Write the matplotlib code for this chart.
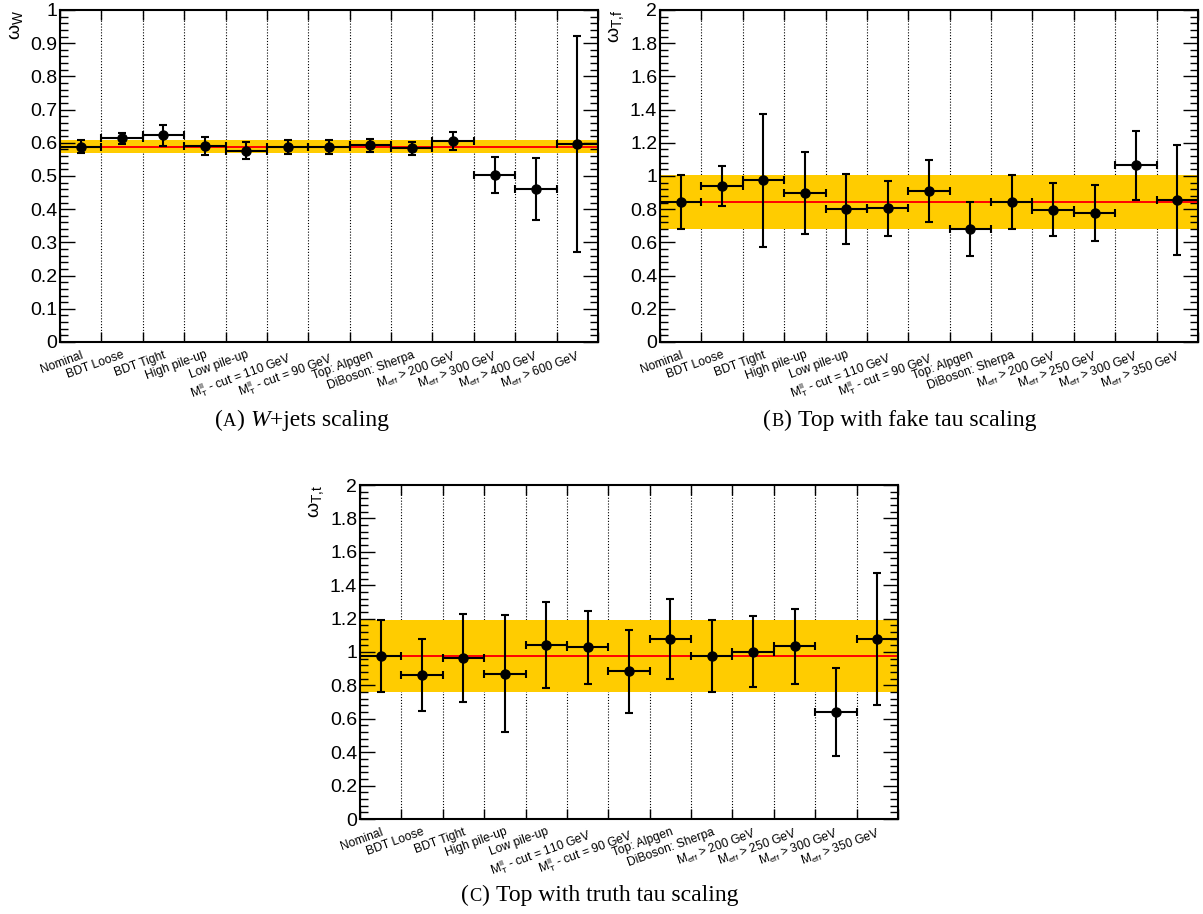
import matplotlib
matplotlib.use("Agg")
import matplotlib.pyplot as plt
from matplotlib.ticker import FixedLocator, MultipleLocator, AutoMinorLocator, FuncFormatter, NullFormatter
from matplotlib.offsetbox import TextArea, HPacker, AnchoredOffsetbox, DrawingArea

plt.rcParams["font.family"] = ["Liberation Sans", "DejaVu Sans"]
plt.rcParams["mathtext.fontset"] = "custom"
plt.rcParams["mathtext.rm"] = "Liberation Sans"
plt.rcParams["mathtext.it"] = "Liberation Sans:italic"
plt.rcParams["mathtext.bf"] = "Liberation Sans:bold"

# ---- variation names ----
common_labels = [
    "Nominal", "BDT Loose", "BDT Tight", "High pile-up", "Low pile-up",
    r"M$_\mathrm{T}^\mathrm{ll}$ - cut = 110 GeV",
    r"M$_\mathrm{T}^\mathrm{ll}$ - cut = 90 GeV",
    "Top: Alpgen", "DiBoson: Sherpa",
]
labels_w = common_labels + [r"M$_\mathrm{eff}$ > 200 GeV", r"M$_\mathrm{eff}$ > 300 GeV",
                            r"M$_\mathrm{eff}$ > 400 GeV", r"M$_\mathrm{eff}$ > 600 GeV"]
labels_top = common_labels + [r"M$_\mathrm{eff}$ > 200 GeV", r"M$_\mathrm{eff}$ > 250 GeV",
                              r"M$_\mathrm{eff}$ > 300 GeV", r"M$_\mathrm{eff}$ > 350 GeV"]

# ---- W+jets scale factors ----
w_val = [0.588, 0.613, 0.622, 0.590, 0.576, 0.588, 0.587, 0.592, 0.583, 0.605, 0.503, 0.460, 0.596]
w_err = [0.019, 0.017, 0.032, 0.028, 0.025, 0.021, 0.020, 0.020, 0.020, 0.027, 0.055, 0.093, 0.325]

# ---- top with fake tau ----
tf_val = [0.841, 0.940, 0.974, 0.898, 0.800, 0.805, 0.908, 0.681, 0.841, 0.797, 0.779, 1.064, 0.857]
tf_err = [0.163, 0.120, 0.400, 0.245, 0.210, 0.165, 0.188, 0.162, 0.163, 0.160, 0.168, 0.210, 0.330]

# ---- top with truth tau ----
tt_val = [0.975, 0.860, 0.962, 0.870, 1.044, 1.028, 0.884, 1.076, 0.975, 1.002, 1.034, 0.642, 1.076]
tt_err = [0.214, 0.216, 0.263, 0.350, 0.258, 0.217, 0.247, 0.240, 0.214, 0.212, 0.225, 0.262, 0.395]

BAND = "#ffcc00"
LINE = "#ff0000"

W, H = 1203, 914
fig = plt.figure(figsize=(W / 100, H / 100), dpi=100)


def px_axes(left, top, right, bottom):
    return fig.add_axes([left / W, 1 - bottom / H, (right - left) / W, (bottom - top) / H])


def fmt(v, _):
    return "%g" % round(v, 3)


def draw_panel(ax, labels, vals, errs, ymax, ystep, ylabel):
    n = len(vals)
    centers = [i + 0.5 for i in range(n)]
    nom, nom_err = vals[0], errs[0]

    # bin separators
    for b in range(1, n):
        ax.axvline(b, color="black", lw=0.8, ls=(0, (1, 1.6)), zorder=0.5)

    # nominal value with its uncertainty band
    ax.axhspan(nom - nom_err, nom + nom_err, color=BAND, lw=0, zorder=1)
    ax.axhline(nom, color=LINE, lw=1.4, zorder=2)

    ax.errorbar(centers, vals, xerr=0.5, yerr=errs, fmt="o", color="black",
                ms=6.5, elinewidth=1.5, capsize=2.8, capthick=1.5, zorder=3)

    ax.set_xlim(0, n)
    ax.set_ylim(0, ymax)

    ax.xaxis.set_major_locator(FixedLocator(list(range(0, n + 1))))
    ax.xaxis.set_major_formatter(NullFormatter())
    ax.xaxis.set_minor_locator(FixedLocator(centers))
    ax.set_xticklabels(labels, minor=True, rotation=20, ha="right",
                       rotation_mode="anchor", fontsize=8.7)
    ax.tick_params(axis="x", which="major", direction="in", length=7, width=1.0,
                   top=True, bottom=True)
    ax.tick_params(axis="x", which="minor", length=0, pad=5)

    ax.yaxis.set_major_locator(MultipleLocator(ystep))
    ax.yaxis.set_minor_locator(AutoMinorLocator(5))
    ax.yaxis.set_major_formatter(FuncFormatter(fmt))
    ax.tick_params(axis="y", which="major", direction="in", length=10.5, width=1.0,
                   left=True, right=True, labelsize=14, pad=2)
    ax.tick_params(axis="y", which="minor", direction="in", length=5.5, width=1.0,
                   left=True, right=True)

    for s in ax.spines.values():
        s.set_linewidth(1.5)

    ax.text(-0.082, 1.0, ylabel, transform=ax.transAxes, rotation=90,
            ha="center", va="top", fontsize=14)


def caption(letter, pieces, x, y):
    big = 17
    children = [
        TextArea("(", textprops=dict(family="Liberation Serif", fontsize=big)),
        TextArea(letter, textprops=dict(family="Liberation Serif", fontsize=big * 0.78)),
        TextArea(")", textprops=dict(family="Liberation Serif", fontsize=big)),
        DrawingArea(5, 1),
    ]
    for text, style in pieces:
        children.append(TextArea(text, textprops=dict(family="Liberation Serif",
                                                      fontsize=big, style=style)))
    box = HPacker(children=children, align="baseline", pad=0, sep=0)
    anchored = AnchoredOffsetbox(loc="center", child=box, pad=0, borderpad=0, frameon=False,
                                 bbox_to_anchor=(x / W, 1 - y / H),
                                 bbox_transform=fig.transFigure)
    fig.add_artist(anchored)


ax_a = px_axes(60, 10, 598, 342)
draw_panel(ax_a, labels_w, w_val, w_err, 1.0, 0.1, r"ω$_\mathrm{W}$")

ax_b = px_axes(660, 10, 1198, 342)
draw_panel(ax_b, labels_top, tf_val, tf_err, 2.0, 0.2, r"ω$_\mathrm{T{,}f}$")

ax_c = px_axes(360, 485, 898, 819)
draw_panel(ax_c, labels_top, tt_val, tt_err, 2.0, 0.2, r"ω$_\mathrm{T{,}t}$")

caption("A", [("W", "italic"), ("+jets scaling", "normal")], 302, 420)
caption("B", [("Top with fake tau scaling", "normal")], 900, 420)
caption("C", [("Top with truth tau scaling", "normal")], 600, 895)

fig.savefig("out.png", dpi=100)
